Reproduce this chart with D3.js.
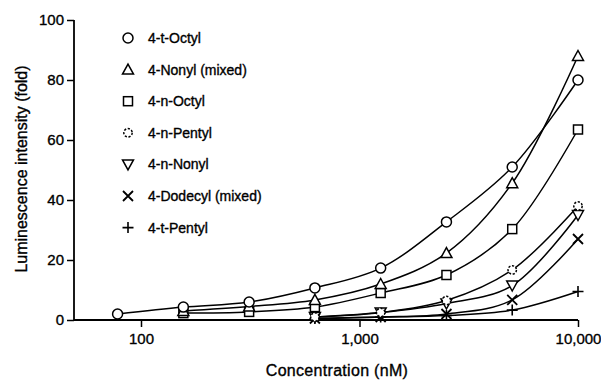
<!DOCTYPE html>
<html>
<head>
<meta charset="utf-8">
<script src="https://cdn.jsdelivr.net/npm/d3@7"></script>
<style>
  html, body { margin: 0; padding: 0; background: #fff; }
  svg { display: block; font-family: "Liberation Sans", Arial, Helvetica, sans-serif; }
  text { stroke: #000; stroke-width: 0.35px; }
</style>
</head>
<body>
<svg id="chart" width="601" height="381"></svg>
<script>
// ---- data ----
const concentrations = [78.125, 156.25, 312.5, 625, 1250, 2500, 5000, 10000];
const seriesNames = ["4-t-Octyl", "4-Nonyl (mixed)", "4-n-Octyl", "4-n-Pentyl", "4-n-Nonyl", "4-Dodecyl (mixed)", "4-t-Pentyl"];
const tOctyl     = [2.0, 4.3, 6.0, 10.7, 17.3, 32.7, 51.0, 80.0];
const nonylMixed = [null, 3.0, 4.5, 6.7, 12.0, 22.3, 45.6, 88.0];
const nOctyl     = [null, 2.3, 2.7, 4.3, 9.0, 15.0, 30.3, 63.5];
const nPentyl    = [null, null, null, 1.0, 2.5, 6.5, 16.7, 38.0];
const nNonyl     = [null, null, null, 1.0, 2.5, 5.5, 11.5, 35.0];
const dodecyl    = [null, null, null, 0.5, 1.0, 2.0, 6.7, 27.0];
const tPentyl    = [null, null, null, 0.5, 1.0, 1.5, 3.3, 9.5];
const seriesValues = [tOctyl, nonylMixed, nOctyl, nPentyl, nNonyl, dodecyl, tPentyl];
const seriesSymbols = ["circle", "triangleUp", "square", "dashedCircle", "triangleDown", "cross", "plus"];
const xTickValues = [100, 1000, 10000];
const xTickLabels = ["100", "1,000", "10,000"];
const yTickValues = [0, 20, 40, 60, 80, 100];

// ---- layout ----
const svg = d3.select("#chart");
const x = d3.scaleLog().domain([100, 10000]).range([141, 578]);
const y = d3.scaleLinear().domain([0, 100]).range([320, 20]);
const axisX0 = 74;

const g = svg.append("g");

// Y axis
const yAxis = d3.axisLeft(y).tickValues(yTickValues).tickSize(7).tickPadding(3);
const gy = g.append("g").attr("transform", `translate(${axisX0},0)`).call(yAxis);
gy.select(".domain").attr("stroke", "#000").attr("stroke-width", 1.8).attr("d", `M0,${y(0)}V${y(100)}`);
gy.selectAll(".tick line").attr("stroke", "#000").attr("stroke-width", 1.5);
gy.selectAll(".tick text").attr("font-size", 15).attr("fill", "#000")
  .attr("font-family", "Liberation Sans, Arial, sans-serif");

// X axis
const xAxis = d3.axisBottom(x).tickValues(xTickValues).tickFormat((d, i) => xTickLabels[i]).tickSize(7).tickPadding(6);
const gx = g.append("g").attr("transform", `translate(0,${y(0)})`).call(xAxis);
gx.select(".domain").remove();
gx.append("line").attr("x1", axisX0).attr("x2", x(10000)).attr("y1", 0).attr("y2", 0)
  .attr("stroke", "#000").attr("stroke-width", 1.8);
gx.selectAll(".tick line").attr("stroke", "#000").attr("stroke-width", 1.5);
gx.selectAll(".tick text").attr("font-size", 15).attr("fill", "#000")
  .attr("font-family", "Liberation Sans, Arial, sans-serif");

// Titles
g.append("text").attr("x", 337).attr("y", 376).attr("text-anchor", "middle")
  .attr("font-size", 16).attr("letter-spacing", 0.3).text("Concentration (nM)");
g.append("text").attr("transform", "translate(27,169) rotate(-90)").attr("text-anchor", "middle")
  .attr("font-size", 16).text("Luminescence intensity (fold)");

// ---- symbol drawing ----
function drawSymbol(sel, type, cx, cy) {
  const s = sel.append("g").attr("transform", `translate(${cx},${cy})`)
    .attr("fill", "none").attr("stroke", "#000").attr("stroke-width", 1.5);
  if (type === "circle") s.append("circle").attr("r", 5).attr("fill", "#fff");
  else if (type === "dashedCircle") s.append("circle").attr("r", 4.2).attr("fill", "#fff").attr("stroke-dasharray", "2.2,1.6");
  else if (type === "square") s.append("rect").attr("x", -4.5).attr("y", -4.5).attr("width", 9).attr("height", 9).attr("fill", "#fff");
  else if (type === "triangleUp") s.append("path").attr("d", "M0,-5.5L5.5,4.5L-5.5,4.5Z").attr("fill", "#fff");
  else if (type === "triangleDown") s.append("path").attr("d", "M0,5.5L5.5,-4.5L-5.5,-4.5Z").attr("fill", "#fff");
  else if (type === "cross") s.append("path").attr("d", "M-5,-5L5,5M5,-5L-5,5").attr("stroke-width", 1.8);
  else if (type === "plus") s.append("path").attr("d", "M-5.5,0H5.5M0,-5.5V5.5").attr("stroke-width", 1.6);
}

// ---- curves ----
const line = d3.line()
  .defined(d => d[1] != null)
  .x(d => x(d[0])).y(d => y(d[1]))
  .curve(d3.curveCatmullRom.alpha(0.5));

const plot = g.append("g");
seriesValues.forEach((vals, i) => {
  const pts = concentrations.map((c, j) => [c, vals[j]]).filter(d => d[1] != null);
  plot.append("path").attr("d", line(pts)).attr("fill", "none")
    .attr("stroke", "#000").attr("stroke-width", 1.5);
});
// markers drawn bottom series first so top series are on top
for (let i = seriesValues.length - 1; i >= 0; i--) {
  concentrations.forEach((c, j) => {
    const v = seriesValues[i][j];
    if (v != null) drawSymbol(plot, seriesSymbols[i], x(c), y(v));
  });
}

// ---- legend ----
const legend = g.append("g");
seriesNames.forEach((name, i) => {
  const ly = 38 + i * 31.6;
  drawSymbol(legend, seriesSymbols[i], 128, ly);
  legend.append("text").attr("x", 148).attr("y", ly + 5).attr("font-size", 14)
    .attr("fill", "#000").text(name);
});
</script>
</body>
</html>
